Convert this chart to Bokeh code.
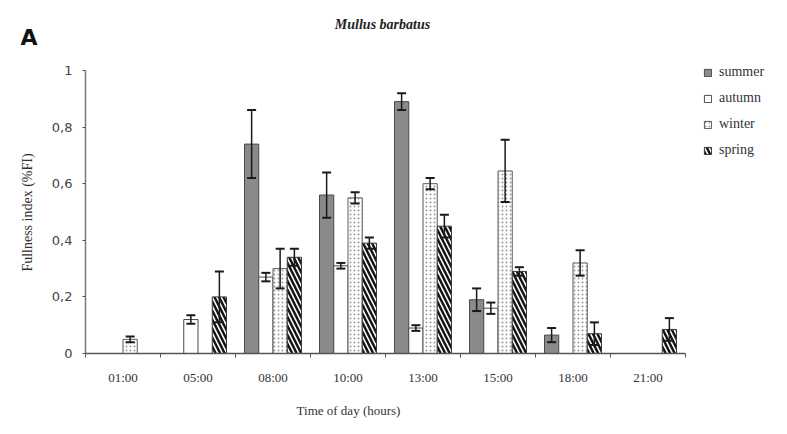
import math
from bokeh.plotting import figure
from bokeh.models import (ColumnDataSource, Range1d, FixedTicker, Whisker, TeeHead,
                          Legend, LegendItem, Label)
from bokeh.embed import file_html
from bokeh.resources import INLINE

# Fullness index by time of day and season
categories = ["01:00", "05:00", "08:00", "10:00", "13:00", "15:00", "18:00", "21:00"]
seasons = ["summer", "autumn", "winter", "spring"]

summer = [0, 0, 0.74, 0.56, 0.89, 0.19, 0.065, 0]
summer_err = [0, 0, 0.12, 0.08, 0.03, 0.04, 0.025, 0]
autumn = [0, 0.12, 0.27, 0.31, 0.09, 0.16, 0, 0]
autumn_err = [0, 0.015, 0.015, 0.01, 0.01, 0.02, 0, 0]
winter = [0.05, 0, 0.30, 0.55, 0.60, 0.645, 0.32, 0]
winter_err = [0.01, 0, 0.07, 0.02, 0.02, 0.11, 0.045, 0]
spring = [0, 0.20, 0.34, 0.39, 0.45, 0.29, 0.07, 0.085]
spring_err = [0, 0.09, 0.03, 0.02, 0.04, 0.015, 0.04, 0.04]

y_ticks = [0, 0.2, 0.4, 0.6, 0.8, 1.0]
y_tick_labels = ["0", "0,2", "0,4", "0,6", "0,8", "1"]

values = {"summer": (summer, summer_err), "autumn": (autumn, autumn_err),
          "winter": (winter, winter_err), "spring": (spring, spring_err)}

styles = {
    "summer": dict(fill_color="#8a8a8a", line_color="#4a4a4a"),
    "autumn": dict(fill_color="white", line_color="#4a4a4a"),
    "winter": dict(fill_color="white", line_color="#5a5a5a", hatch_pattern="dot",
                   hatch_color="#9a9a9a", hatch_scale=4, hatch_weight=1),
    "spring": dict(fill_color="white", line_color="#3a3a3a", hatch_pattern="left_diagonal_line",
                   hatch_color="#151515", hatch_scale=9, hatch_weight=2.5),
}

SERIF = "Liberation Serif"
W, H = 787, 434
# plotting area inside the canvas (pixels): left, right, top, bottom
PL, PR, PT, PB = 85, 685, 70, 353
n = len(categories)
y_max = 1.0

bar_w = 0.19
offsets = [-1.5 * bar_w, -0.5 * bar_w, 0.5 * bar_w, 1.5 * bar_w]

# the frame spans the whole canvas; axes are pinned at x=0 / y=0
xs = n / (PR - PL)
ys = y_max / (PB - PT)
p = figure(width=W, height=H, output_backend="svg", toolbar_location=None,
           x_range=Range1d(-PL * xs, n + (W - PR) * xs),
           y_range=Range1d(-(H - PB) * ys, y_max + PT * ys),
           min_border=0)
p.outline_line_color = None
p.grid.visible = False
p.background_fill_color = "white"
p.border_fill_color = "white"

legend_items = []
for s, off in zip(seasons, offsets):
    vals, errs = values[s]
    idx = [i for i, v in enumerate(vals) if v > 0]
    src = ColumnDataSource(dict(
        x=[i + 0.5 + off for i in idx],
        top=[vals[i] for i in idx],
        upper=[vals[i] + errs[i] for i in idx],
        lower=[vals[i] - errs[i] for i in idx],
    ))
    r = p.vbar(x="x", top="top", bottom=0, width=bar_w, source=src, line_width=1, **styles[s])
    w = Whisker(base="x", upper="upper", lower="lower", source=src, line_color="#1a1a1a",
                line_width=1.5, level="annotation",
                upper_head=TeeHead(size=9, line_color="#1a1a1a", line_width=2),
                lower_head=TeeHead(size=9, line_color="#1a1a1a", line_width=2))
    p.add_layout(w)
    legend_items.append(LegendItem(label=s, renderers=[r]))

# x axis: category boundaries as minor ticks, labels at centres
xa = p.xaxis[0]
xa.fixed_location = 0
xa.bounds = (0, n)
xa.ticker = FixedTicker(ticks=[i + 0.5 for i in range(n)], minor_ticks=list(range(n + 1)))
xa.major_label_overrides = {i + 0.5: c for i, c in enumerate(categories)}
xa.major_tick_out = 0
xa.major_tick_in = 0
xa.minor_tick_out = 4
xa.minor_tick_in = 0
xa.minor_tick_line_color = "#555555"
xa.axis_line_color = "#555555"
xa.axis_line_width = 1.5
xa.major_label_text_font = SERIF
xa.major_label_text_font_size = "13px"
xa.major_label_text_color = "#333333"
xa.major_label_standoff = 12

ya = p.yaxis[0]
ya.fixed_location = 0
ya.bounds = (0, y_max)
ya.ticker = FixedTicker(ticks=y_ticks, minor_ticks=[])
ya.major_label_overrides = {t: l for t, l in zip(y_ticks, y_tick_labels)}
ya.major_tick_out = 3
ya.major_tick_in = 0
ya.major_tick_line_color = "#555555"
ya.axis_line_color = "#777777"
ya.axis_line_width = 1.5
ya.major_label_text_font = "DejaVu Sans"
ya.major_label_text_font_size = "13px"
ya.major_label_text_color = "#444444"
ya.major_label_standoff = 10

legend = Legend(items=legend_items, location=(703, H - 158), orientation="vertical",
                glyph_width=9, glyph_height=9, label_height=16, spacing=10,
                padding=0, margin=0, label_standoff=7,
                label_text_font=SERIF, label_text_font_size="14px",
                label_text_color="#333333", border_line_color=None,
                background_fill_alpha=0)
p.add_layout(legend)

def screen_label(x, y, text, **kw):
    p.add_layout(Label(x=x, y=H - y, x_units="screen", y_units="screen", text=text, **kw))

screen_label(382, 24, "Mullus barbatus", text_font=SERIF, text_font_style="bold italic",
             text_font_size="14px", text_color="#222222",
             text_align="center", text_baseline="middle")
screen_label(20, 37, "A", text_font="DejaVu Sans", text_font_style="bold",
             text_font_size="22px", text_color="#111111",
             text_align="left", text_baseline="alphabetic")
screen_label(348, 410, "Time of day (hours)", text_font=SERIF, text_font_size="13px",
             text_color="#333333", text_align="center", text_baseline="middle")
screen_label(27, 212, "Fullness index (%FI)", text_font=SERIF, text_font_size="14px",
             text_color="#333333", text_align="center", text_baseline="middle",
             angle=math.pi / 2)

open("out.html", "w").write(file_html(p, INLINE))
